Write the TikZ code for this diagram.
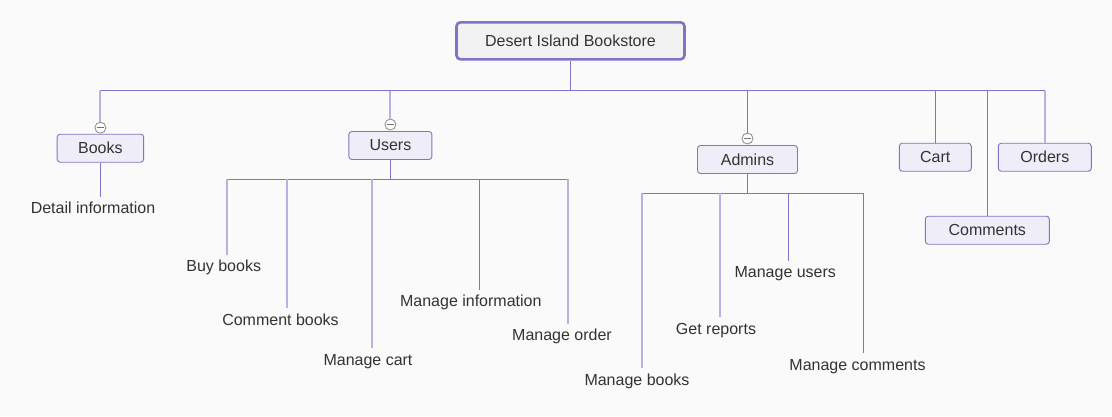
\documentclass[tikz,border=0pt]{standalone}
\usepackage{fontspec}
\setmainfont{Liberation Sans}
\definecolor{edge}{HTML}{7F74C7}
\definecolor{edgelight}{HTML}{B9B1E2}
\definecolor{boxfill}{HTML}{EFEEF8}
\definecolor{rootfill}{HTML}{F2F2F2}
\definecolor{bg}{HTML}{FAFAFA}
\definecolor{ink}{HTML}{333333}
\newcommand{\mmfont}{\fontsize{16}{19}\selectfont}
\tikzset{
  rootbox/.style={draw=edge, line width=2.6pt, rounded corners=4pt, fill=rootfill, minimum width=228pt, minimum height=37pt, text=ink, font=\mmfont},
  topic/.style={draw=edge, line width=0.9pt, rounded corners=3pt, fill=boxfill, minimum height=28pt, inner sep=0pt, text=ink, font=\mmfont},
  leaf/.style={inner sep=0.5pt, text height=16pt, text depth=4pt, anchor=base, text=ink, font=\mmfont},
  fold/.style={circle, draw=black!45, line width=0.8pt, fill=white, minimum size=11pt, inner sep=0pt,
    path picture={\draw[black!55, line width=0.8pt] ([xshift=-3.6pt]path picture bounding box.center) -- ([xshift=3.6pt]path picture bounding box.center);}},
  link/.style={draw=edge, line width=1.1pt},
  linklight/.style={draw=edgelight, line width=2pt}
}

\begin{document}
\begin{tikzpicture}[x=1pt,y=-1pt]
\fill[bg] (0,0) rectangle (1112,416);
\useasboundingbox (0,0) rectangle (1112,416);

%boxes
\node[rootbox] (root) at (570.5,40.8) {Desert Island Bookstore\hspace{10pt}};
\node[topic, minimum width=86.5pt]  (books)    at (100.4,148.2)  {Books};
\node[topic, minimum width=83pt]    (users)    at (390.4,145.5)  {Users};
\node[topic, minimum width=100pt]   (admins)   at (747.5,159.5) {Admins};
\node[topic, minimum width=72pt]    (cart)     at (935.3,157.2) {Cart};
\node[topic, minimum width=124pt]   (comments) at (987.3,230.2) {Comments};
\node[topic, minimum width=93pt]    (orders)   at (1044.8,157.2) {Orders};
\node[fold] (foldB) at (100.4,127.7) {};
\node[fold] (foldU) at (390.4,124.5) {};
\node[fold] (foldA) at (747.5,138.5) {};

%labels
\node[leaf] (detail)  at (93,213.3)    {Detail information};
\node[leaf] (buy)     at (223.7,271.7) {Buy books};
\node[leaf] (comment) at (280.5,325)   {Comment books};
\node[leaf] (mcart)   at (368,365)     {Manage cart};
\node[leaf] (minfo)   at (470.8,306.7) {Manage information};
\node[leaf] (morder)  at (562,340.7)   {Manage order};
\node[leaf] (mbooks)  at (637,385)     {Manage books};
\node[leaf] (reports) at (716,334)     {Get reports};
\node[leaf] (musers)  at (785.3,277.7) {Manage users};
\node[leaf] (mcomm)   at (857.5,370)   {Manage comments};

%main bar
\coordinate (barL) at (100.4,90.5);
\coordinate (barR) at (1044.8,90.5);
\draw[link] (root.south) -- (root.south |- barL);
\draw[link] (barL) -- (barR);
\draw[linklight] (barL) -- (foldB.north);
\draw[linklight] (foldU.north |- barL) -- (foldU.north);
\draw[link] (foldA.north |- barL) -- (foldA.north);
\draw[link] (cart.north |- barL) -- (cart.north);
\draw[link] (comments.north |- barL) -- (comments.north);
\draw[linklight] (barR) -- (orders.north);

%books
\draw[link] (books.south) -- (books.south |- detail.north);

%users
\coordinate (ub1) at (227.3,179.3);
\coordinate (ub2) at (286.7,179.3);
\coordinate (ub3) at (371.7,179.3);
\coordinate (ub4) at (479.3,179.3);
\coordinate (ub5) at (567.7,179.3);
\draw[link] (users.south) -- (users.south |- ub1);
\draw[link] (ub1) -- (ub5);
\draw[linklight] (ub1) -- (ub1 |- buy.north);
\draw[linklight] (ub2) -- (ub2 |- comment.north);
\draw[linklight] (ub3) -- (ub3 |- mcart.north);
\draw[link]      (ub4) -- (ub4 |- minfo.north);
\draw[linklight] (ub5) -- (ub5 |- morder.north);

%admins
\coordinate (ab1) at (641.7,193.3);
\coordinate (ab2) at (720,193.3);
\coordinate (ab3) at (788.3,193.3);
\coordinate (ab4) at (863.3,193.3);
\draw[link] (admins.south) -- (admins.south |- ab1);
\draw[link] (ab1) -- (ab4);
\draw[linklight] (ab1) -- (ab1 |- mbooks.north);
\draw[linklight] (ab2) -- (ab2 |- reports.north);
\draw[link]      (ab3) -- (ab3 |- musers.north);
\draw[link]      (ab4) -- (ab4 |- mcomm.north);
\end{tikzpicture}
\end{document}
